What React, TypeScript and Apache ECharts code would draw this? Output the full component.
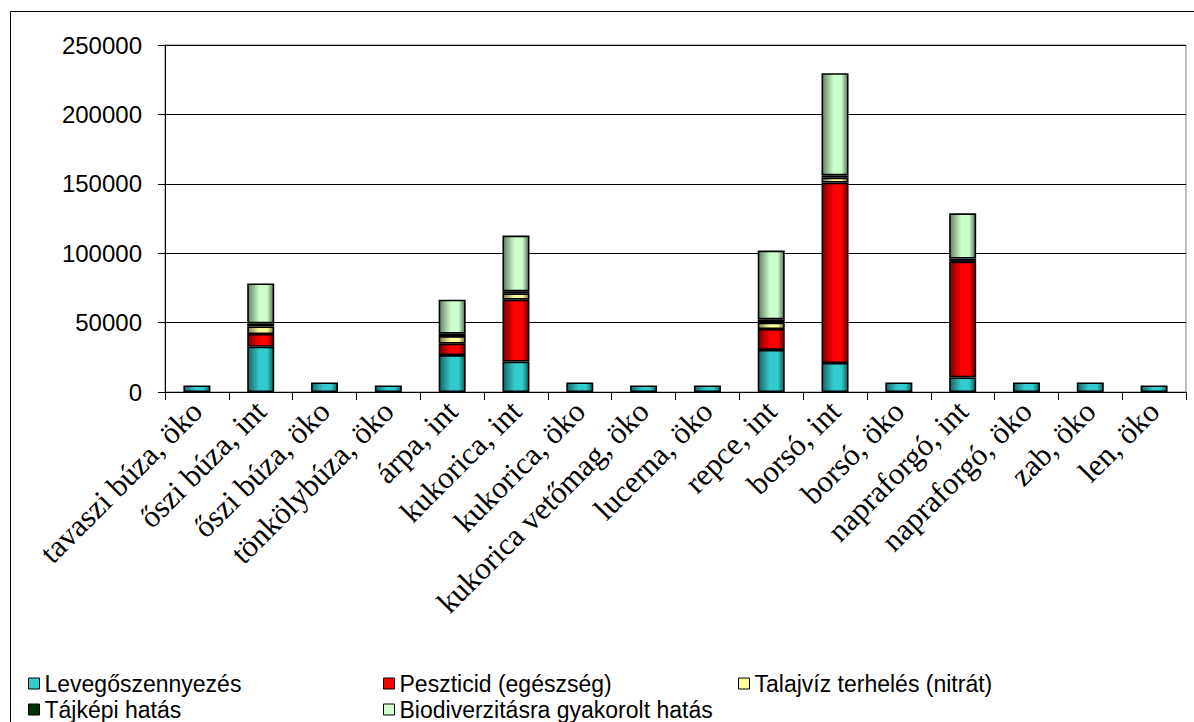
import React, { useEffect, useRef } from "react";
import * as echarts from "echarts";

const categories = [
  "tavaszi búza, öko",
  "őszi búza, int",
  "őszi búza, öko",
  "tönkölybúza, öko",
  "árpa, int",
  "kukorica, int",
  "kukorica, öko",
  "kukorica vetőmag, öko",
  "lucerna, öko",
  "repce, int",
  "borsó, int",
  "borsó, öko",
  "napraforgó, int",
  "napraforgó, öko",
  "zab, öko",
  "len, öko",
];

const levegoszennyezes = [4700, 32600, 6900, 4700, 26600, 21900, 6900, 4700, 4700, 30300, 20900, 6900, 10500, 6900, 6900, 4700];
const peszticid = [0, 9200, 0, 0, 8200, 44600, 0, 0, 0, 15100, 130000, 0, 83400, 0, 0, 0];
const talajviz = [0, 5400, 0, 0, 5500, 4600, 0, 0, 0, 4600, 3600, 0, 600, 0, 0, 0];
const tajkepi = [0, 2200, 0, 0, 1700, 1400, 0, 0, 0, 2300, 1500, 0, 1600, 0, 0, 0];
const biodiverzitas = [0, 28800, 0, 0, 24500, 40200, 0, 0, 0, 49600, 73700, 0, 32600, 0, 0, 0];

const seriesNames = [
  "Levegőszennyezés",
  "Peszticid (egészség)",
  "Talajvíz terhelés (nitrát)",
  "Tájképi hatás",
  "Biodiverzitásra gyakorolt hatás",
];
const seriesColors = ["#33CCCC", "#FF0000", "#FFFF99", "#003300", "#CCFFCC"];

const yMin = 0;
const yMax = 250000;
const yStep = 50000;

const SANS = '"Liberation Sans", Arial, sans-serif';
const SERIF = '"Liberation Serif", "Times New Roman", serif';

function shade(hex: string, f: number): string {
  const n = parseInt(hex.slice(1), 16);
  const r = Math.round(((n >> 16) & 255) * f);
  const g = Math.round(((n >> 8) & 255) * f);
  const b = Math.round((n & 255) * f);
  return "rgb(" + r + "," + g + "," + b + ")";
}

function barFill(hex: string) {
  return {
    type: "linear",
    x: 0,
    y: 0,
    x2: 1,
    y2: 0,
    colorStops: [
      { offset: 0, color: shade(hex, 0.5) },
      { offset: 0.45, color: hex },
      { offset: 0.75, color: hex },
      { offset: 1, color: shade(hex, 0.45) },
    ],
  };
}

export default function App() {
  const ref = useRef<HTMLDivElement>(null);

  useEffect(() => {
    if (!ref.current) return;
    const chart = echarts.init(ref.current, null, { renderer: "svg" });
    const allData = [levegoszennyezes, peszticid, talajviz, tajkepi, biodiverzitas];
    const legendLeft = [28, 383, 738, 28, 383];
    const legendTop = [672, 672, 672, 698, 698];

    chart.setOption({
      animation: false,
      backgroundColor: "#ffffff",
      grid: {
        left: 165,
        right: 8,
        top: 45,
        bottom: 330,
        show: true,
        borderColor: "#808080",
        borderWidth: 1,
        backgroundColor: "transparent",
      },
      xAxis: {
        type: "category",
        data: categories,
        axisLine: { show: true, lineStyle: { color: "#000", width: 1 } },
        axisTick: { show: true, length: 8, lineStyle: { color: "#000" } },
        axisLabel: {
          rotate: 45,
          interval: 0,
          fontSize: 31,
          fontFamily: SERIF,
          color: "#000",
          margin: 14,
        },
        splitLine: { show: false },
      },
      yAxis: {
        type: "value",
        min: yMin,
        max: yMax,
        interval: yStep,
        axisLine: { show: true, lineStyle: { color: "#000", width: 1 } },
        axisTick: { show: true, length: 7, lineStyle: { color: "#000" } },
        axisLabel: {
          fontSize: 24,
          fontFamily: SANS,
          color: "#000",
          margin: 23,
          formatter: (v: number) => String(v),
        },
        splitLine: { show: true, lineStyle: { color: "#000", width: 1 } },
      },
      series: allData.map((d, i) => ({
        type: "bar",
        name: seriesNames[i],
        stack: "total",
        barWidth: 27,
        data: d.map((v) => (v === 0 ? null : v)),
        itemStyle: { color: barFill(seriesColors[i]), borderColor: "#000", borderWidth: 1.6 },
        emphasis: { disabled: true },
      })),
      legend: seriesNames.map((n, i) => ({
        data: [
          {
            name: n,
            itemStyle: { color: seriesColors[i], borderColor: "#000", borderWidth: 1 },
          },
        ],
        left: legendLeft[i],
        top: legendTop[i],
        padding: 0,
        icon: "rect",
        itemWidth: 11,
        itemHeight: 11,
        itemGap: 8,
        selectedMode: false,
        textStyle: { fontSize: 23, lineHeight: 22, fontFamily: SANS, color: "#000" },
      })),
      graphic: [
        {
          type: "rect",
          z: 3,
          shape: { x: 11, y: 640, width: 1200, height: 100 },
          style: { fill: "#ffffff" },
        },
        {
          type: "line",
          z: 5,
          shape: { x1: 10.5, y1: 11.5, x2: 1200, y2: 11.5 },
          style: { stroke: "#000", lineWidth: 1 },
        },
        {
          type: "line",
          z: 5,
          shape: { x1: 10.5, y1: 11.5, x2: 10.5, y2: 730 },
          style: { stroke: "#000", lineWidth: 1 },
        },
      ],
    });

    return () => chart.dispose();
  }, []);

  return (
    <div
      ref={ref}
      style={{ position: "fixed", left: 0, top: 0, width: 1194, height: 722 }}
    />
  );
}
